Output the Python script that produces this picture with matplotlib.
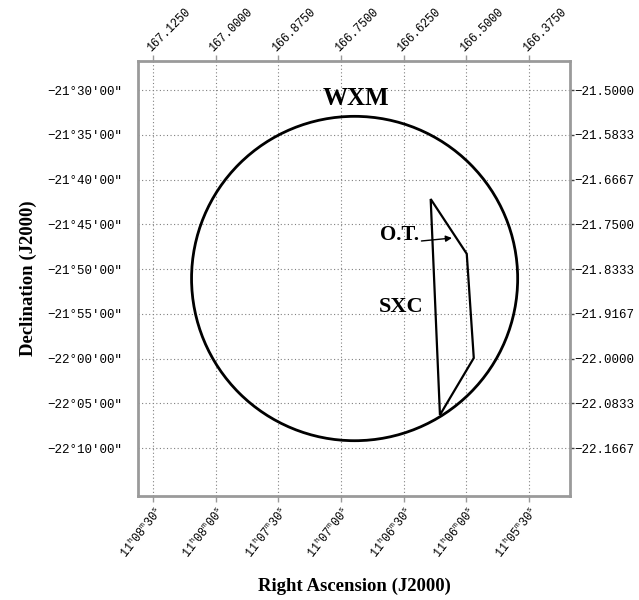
import numpy as np
import matplotlib
matplotlib.use("Agg")
import matplotlib.pyplot as plt
from matplotlib.patches import Ellipse, Polygon

plt.rcParams['mathtext.fontset'] = 'custom'
plt.rcParams['mathtext.rm'] = 'Liberation Mono'

# grid positions (deg)
ra_ticks = [167.125, 167.000, 166.875, 166.750, 166.625, 166.500, 166.375]
ra_top_labels = ["167.1250", "167.0000", "166.8750", "166.7500",
                 "166.6250", "166.5000", "166.3750"]
ra_bottom_labels = [r"$\mathrm{11^{h}08^{m}30^{s}}$", r"$\mathrm{11^{h}08^{m}00^{s}}$",
                    r"$\mathrm{11^{h}07^{m}30^{s}}$", r"$\mathrm{11^{h}07^{m}00^{s}}$",
                    r"$\mathrm{11^{h}06^{m}30^{s}}$", r"$\mathrm{11^{h}06^{m}00^{s}}$",
                    r"$\mathrm{11^{h}05^{m}30^{s}}$"]
dec_ticks = [-21.5, -21.58333, -21.66667, -21.75, -21.83333,
             -21.91667, -22.0, -22.08333, -22.16667]
dec_left_labels = ["−21°30'00\"", "−21°35'00\"", "−21°40'00\"", "−21°45'00\"",
                   "−21°50'00\"", "−21°55'00\"", "−22°00'00\"", "−22°05'00\"",
                   "−22°10'00\""]
dec_right_labels = ["−21.5000", "−21.5833", "−21.6667", "−21.7500", "−21.8333",
                    "−21.9167", "−22.0000", "−22.0833", "−22.1667"]

# WXM error circle
wxm_ra, wxm_dec = 166.7228, -21.851
wxm_radius = 0.302  # deg

# SXC error box vertices (RA, Dec)
sxc_ra = [166.571, 166.499, 166.485, 166.5525]
sxc_dec = [-21.703, -21.805, -21.999, -22.105]

# optical transient
ot_ra, ot_dec = 166.5285, -21.7756

mono = 'Liberation Mono'
serif = 'Liberation Serif'
frame_col = '#9a9a9a'

fig = plt.figure(figsize=(6.39, 6.00), dpi=100)
ax = fig.add_axes([0.216, 0.1733, 0.676, 0.725])
ax.set_xlim(167.155, 166.293)
ax.set_ylim(-22.256, -21.446)

for s in ax.spines.values():
    s.set_color(frame_col)
    s.set_linewidth(2.0)

ax.grid(True, color='#808080', linestyle=(0, (1, 2.2)), linewidth=0.8)

# error circle
circ = Ellipse((wxm_ra, wxm_dec),
               width=2 * wxm_radius / np.cos(np.radians(wxm_dec)),
               height=2 * wxm_radius,
               fill=False, edgecolor='black', linewidth=2.0, zorder=3)
ax.add_patch(circ)

# SXC box
box = Polygon(np.column_stack([sxc_ra, sxc_dec]), closed=True, fill=False,
              edgecolor='black', linewidth=1.6, zorder=3)
ax.add_patch(box)

ax.text(166.720, -21.515, "WXM", fontfamily=serif, fontweight='bold',
        fontsize=18, ha='center', va='center')
ax.text(166.630, -21.904, "SXC", fontfamily=serif, fontweight='bold',
        fontsize=16, ha='center', va='center')
ax.annotate("O.T.", xy=(ot_ra, ot_dec), xytext=(-24, 2), textcoords='offset points',
            fontfamily=serif, fontweight='bold', fontsize=15, ha='right', va='center',
            arrowprops=dict(arrowstyle='-|>', color='black', lw=1.0,
                            relpos=(1.0, 0.2), shrinkA=0, shrinkB=0,
                            mutation_scale=9))

# bottom / left
ax.set_xticks(ra_ticks)
ax.set_xticklabels(ra_bottom_labels, rotation=52, ha='right', va='top',
                   rotation_mode='anchor', fontsize=8.5)
ax.set_yticks(dec_ticks)
ax.set_yticklabels(dec_left_labels, fontfamily=mono, fontsize=9)
ax.tick_params(axis='x', direction='out', length=4, width=1, color=frame_col, pad=2)
ax.tick_params(axis='y', length=0, pad=11)

# top / right
top = ax.secondary_xaxis('top')
top.set_xticks(ra_ticks)
top.set_xticklabels(ra_top_labels, rotation=45, ha='left', va='bottom',
                    rotation_mode='anchor', fontfamily=mono, fontsize=8.5)
top.tick_params(direction='out', length=4, width=1, color=frame_col, pad=1)
top.spines['top'].set_visible(False)

right = ax.secondary_yaxis('right')
right.set_yticks(dec_ticks)
right.set_yticklabels(dec_right_labels, fontfamily=mono, fontsize=9)
right.tick_params(direction='out', length=3, width=1, color='#444444', pad=0)
right.spines['right'].set_visible(False)

ax.set_xlabel("Right Ascension (J2000)", fontfamily=serif, fontweight='bold',
              fontsize=13.5, labelpad=12)
ax.set_ylabel("Declination (J2000)", fontfamily=serif, fontweight='bold',
              fontsize=13.5, labelpad=8)

fig.savefig("out.png", dpi=100)
